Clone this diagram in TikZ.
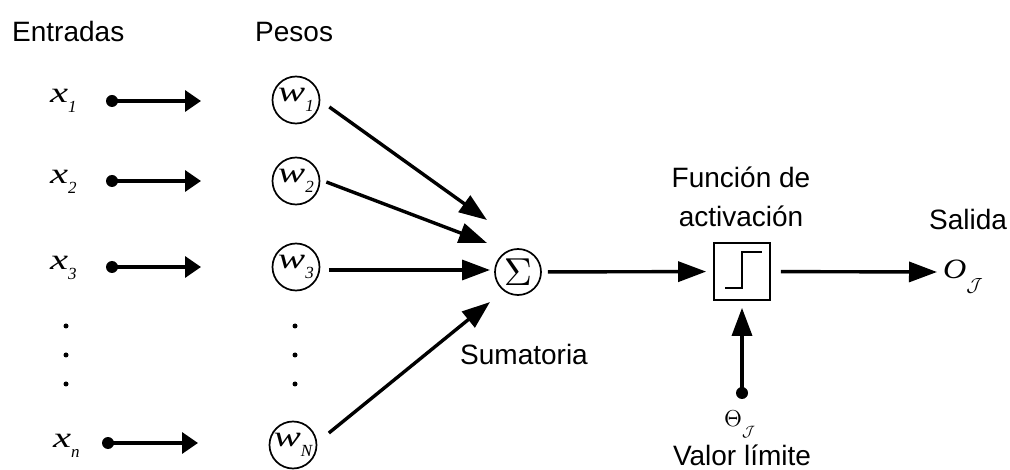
\documentclass[tikz,border=0pt]{standalone}
\usepackage[no-math]{fontspec}
\usepackage{graphicx}
\setmainfont{Liberation Sans}
\newfontfamily\tms{Liberation Serif}
\newfontfamily\tmswide[FakeStretch=1.4]{Liberation Serif}
\newfontfamily\tmsout[FakeStretch=1.15]{Liberation Serif}
\usetikzlibrary{arrows.meta}

% wide italic variable with a lowered italic subscript
\newcommand\isub[2]{{\tmswide\itshape\fontsize{29}{34}\selectfont #1}%
  \raisebox{-10pt}{\tms\itshape\fontsize{17}{17}\selectfont #2}}
% calligraphic J at a given scale
\newcommand\calJ[1]{\scalebox{#1}{\normalsize$\mathcal{J}$}}

\begin{document}
\begin{tikzpicture}[x=1pt,y=-1pt,
  lbl/.style={inner sep=0pt, font=\fontsize{28}{34}\selectfont},
  var/.style={inner sep=0pt},
  wnode/.style={draw, circle, line width=1.7pt, minimum size=47pt, inner sep=0pt},
  dotnode/.style={circle, fill, inner sep=0pt, minimum size=12pt},
  ell/.style={circle, fill, inner sep=0pt, minimum size=5pt},
  inarr/.style={line width=3.4pt, -{Triangle[length=16pt,width=21pt]}},
  arr/.style={line width=3.4pt, -{Triangle[length=28pt,width=20pt]}},
]
\useasboundingbox (0,0) rectangle (1010,470);

% column headings
\node[lbl, anchor=base west] (ent) at (12,42) {Entradas};
\node[lbl, anchor=base west] (pes) at (255,42) {Pesos};

% inputs
\node[var, anchor=base west] (x1) at (50,103) {\isub{x}{1}};
\node[var, anchor=base west] (x2) at (50,184) {\isub{x}{2}};
\node[var, anchor=base west] (x3) at (50,270) {\isub{x}{3}};
\node[var, anchor=base west] (xn) at (53,447) {\isub{x}{n}};

\node[dotnode] (d1) at (112,101) {};
\node[dotnode] (d2) at (112,181) {};
\node[dotnode] (d3) at (112,267) {};
\node[dotnode] (dn) at (108,443) {};
\coordinate (t1) at (201,101);
\coordinate (t2) at (201,181);
\coordinate (t3) at (201,267);
\coordinate (tn) at (198,443);
\draw[inarr] (d1.center) -- (t1);
\draw[inarr] (d2.center) -- (t2);
\draw[inarr] (d3.center) -- (t3);
\draw[inarr] (dn.center) -- (tn);

% vertical ellipses
\node[ell] (ea1) at (66,326) {};
\node[ell] (ea2) at (66,355) {};
\node[ell] (ea3) at (66,384) {};
\node[ell] (eb1) at (295,326) {};
\node[ell] (eb2) at (295,355) {};
\node[ell] (eb3) at (295,384) {};

% weights
\node[wnode] (w1) at (296,100) {\isub{w}{1}};
\node[wnode] (w2) at (296,181) {\isub{w}{2}};
\node[wnode] (w3) at (296,267) {\isub{w}{3}};
\node[wnode] (wN) at (293,445) {\isub{w}{N}};

% summation
\node[draw, circle, line width=1.7pt, minimum size=46pt, inner sep=0pt]
  (sig) at (518,272) {\scalebox{3.9}{\normalsize$\Sigma$}};
\coordinate (s1) at (487,220);
\coordinate (s2) at (487,243);
\coordinate (s3) at (490,270);
\coordinate (s4) at (490,302);
\draw[arr] ([shift={(9,7)}]w1.east) -- (s1);
\draw[arr] ([shift={(6,1)}]w2.east) -- (s2);
\draw[arr] ([shift={(8.5,3)}]w3.east) -- (s3);
\draw[arr] ([shift={(11.5,-12)}]wN.east) -- (s4);
\node[lbl, anchor=base west] (sum) at (460,365) {Sumatoria};

% activation function
\node[draw, line width=1.7pt, minimum width=56pt, minimum height=57pt, inner sep=0pt]
  (box) at (742,271.5) {};
\draw[line width=2pt] ([shift={(-17,16.5)}]box.center) -- ++(17,0) -- ++(0,-36) -- ++(20,0);
\node[lbl, anchor=base] (fun1) at (741,188) {Función de};
\node[lbl, anchor=base] (fun2) at (741,227) {activación};
\draw[arr, shorten <=6pt, shorten >=7pt] (sig) -- (box);

% threshold
\node[dotnode] (thdot) at (742,393) {};
\draw[arr, shorten >=7pt] (thdot.center) -- (box);
\node[inner sep=0pt, anchor=base west] (theta) at (724,426)
  {\scalebox{2.3}{\normalsize$\Theta$}\raisebox{-10pt}{\calJ{1.5}}};
\node[lbl, anchor=base] (valor) at (742,465) {Valor límite};

% output
\node[inner sep=0pt, anchor=base west] (out) at (943,279)
  {{\tmsout\itshape\fontsize{28}{28}\selectfont O}\raisebox{-13pt}{\calJ{1.9}}};
\coordinate (otip) at (937,272);
\draw[arr, shorten <=10pt] (box) -- (otip);
\node[lbl, anchor=base west] (sal) at (929,230) {Salida};
\end{tikzpicture}
\end{document}
